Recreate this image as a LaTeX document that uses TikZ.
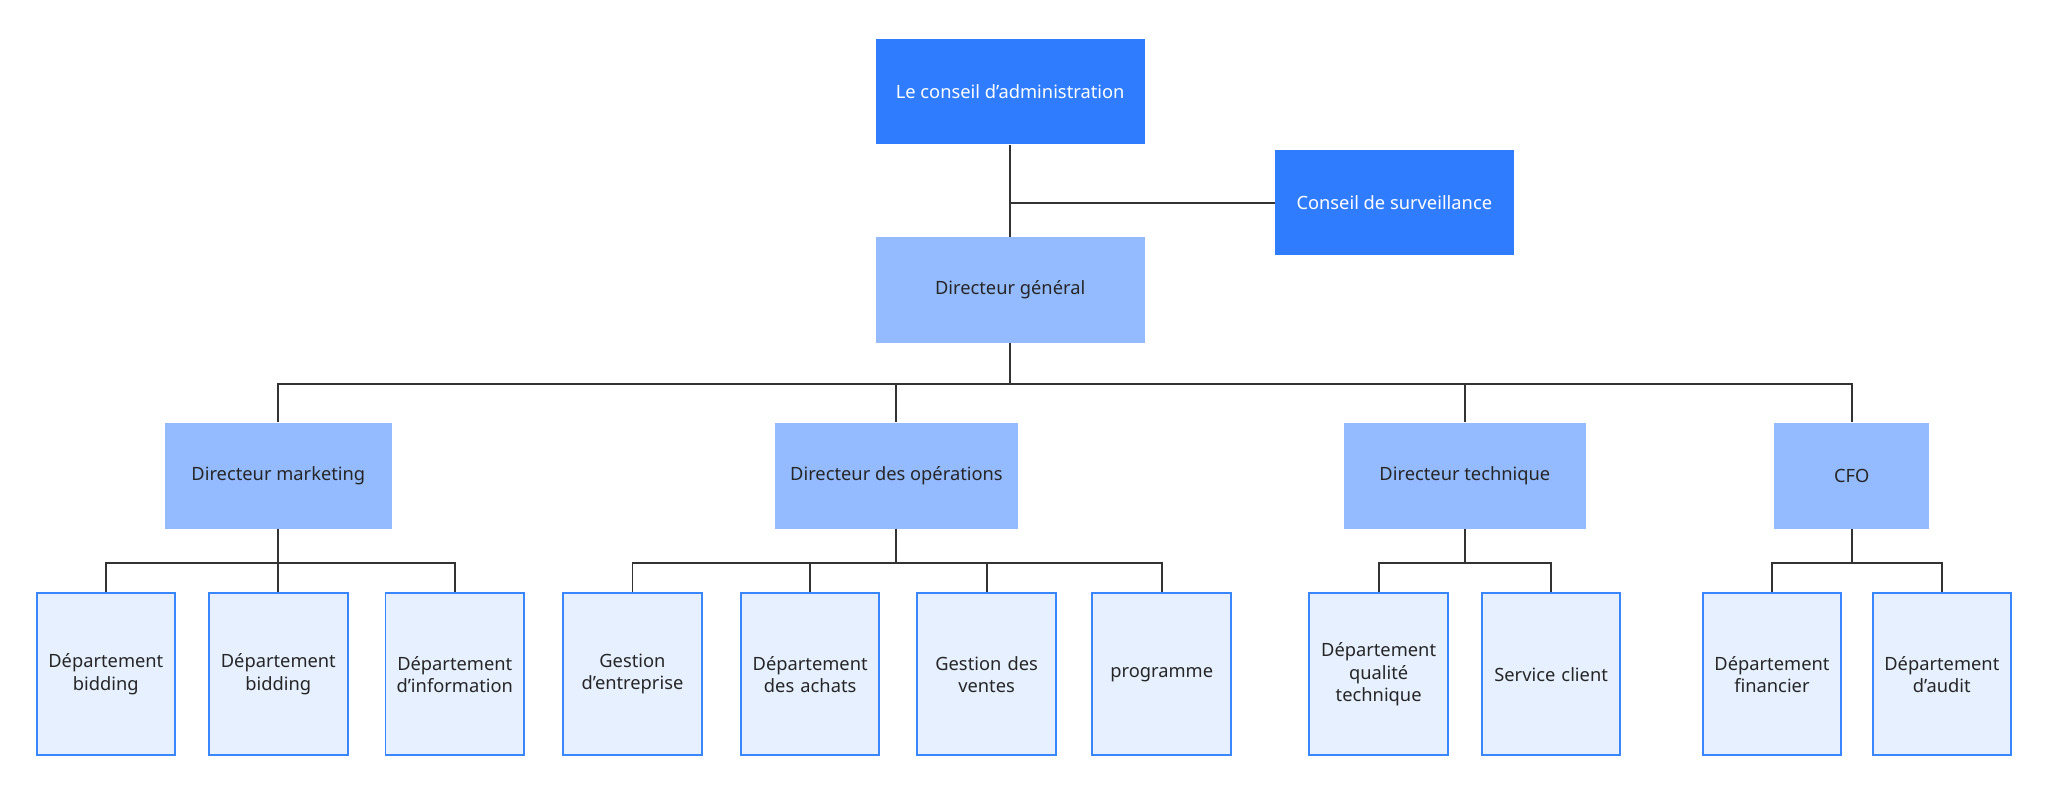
\documentclass[tikz,border=0pt]{standalone}
\usepackage{fontspec}
\setmainfont{Noto Sans}
\definecolor{dk}{HTML}{2F7CFF}
\definecolor{md}{HTML}{94BBFF}
\definecolor{lt}{HTML}{E6F0FF}
\definecolor{bd}{HTML}{3A86FF}
\definecolor{ln}{HTML}{333333}
\begin{document}
\begin{tikzpicture}[x=1pt,y=-1pt,
 top/.style={fill=dk,text=white,minimum width=206pt,minimum height=81pt,font=\fontsize{14}{17}\selectfont,inner sep=1pt},
 mid/.style={fill=md,text=black!85,minimum height=81pt,font=\fontsize{14}{17}\selectfont},
 leaf/.style={fill=lt,draw=bd,line width=1.5pt,text=black!85,minimum width=106pt,minimum height=124pt,font=\fontsize{14}{17}\selectfont,align=center,text width=104pt,inner sep=0pt},
 con/.style={draw=ln,line width=1.5pt}]
\useasboundingbox (0,0) rectangle (1568,607);
\node[top] (ca) at (773,70) {Le conseil d'administration};
\node[top,minimum width=183pt] (cs) at (1067,155) {Conseil de surveillance};
\node[mid,minimum width=206pt] (dg) at (773,222) {Directeur général};
\node[mid,minimum width=174pt] (mk) at (213,364) {Directeur marketing};
\node[mid,minimum width=186pt] (op) at (686,364) {Directeur des opérations};
\node[mid,minimum width=185pt] (te) at (1121,364) {Directeur technique};
\node[mid,minimum width=119pt] (cf) at (1417,364) {CFO};
\node[leaf] (l1) at (81,516) {Département\\bidding};
\node[leaf] (l2) at (213,516) {Département\\bidding};
\node[leaf] (l3) at (348,516) {Département\\d'information};
\node[leaf] (l4) at (484,516) {Gestion\\d'entreprise};
\node[leaf] (l5) at (620,516) {Département\\des achats};
\node[leaf] (l6) at (755,516) {Gestion des\\ventes};
\node[leaf] (l7) at (889,516) {programme};
\node[leaf] (l8) at (1055,516) {Département\\qualité\\technique};
\node[leaf] (l9) at (1187,516) {Service client};
\node[leaf] (l10) at (1356,516) {Département\\financier};
\node[leaf] (l11) at (1486,516) {Département\\d'audit};
\coordinate (b0) at (0,294);
\coordinate (b1) at (0,431);
\draw[con] (ca.south) -- (dg.north);
\draw[con] (cs.west) -- (cs.west -| ca.south);
\foreach \c in {mk,op,te,cf}{\draw[con] (dg.south) -- (dg.south |- b0) -| (\c.north);}
\foreach \p/\c in {mk/l1,mk/l2,mk/l3,op/l4,op/l5,op/l6,op/l7,te/l8,te/l9,cf/l10,cf/l11}{\draw[con] (\p.south) -- (\p.south |- b1) -| (\c.north);}
\end{tikzpicture}
\end{document}
